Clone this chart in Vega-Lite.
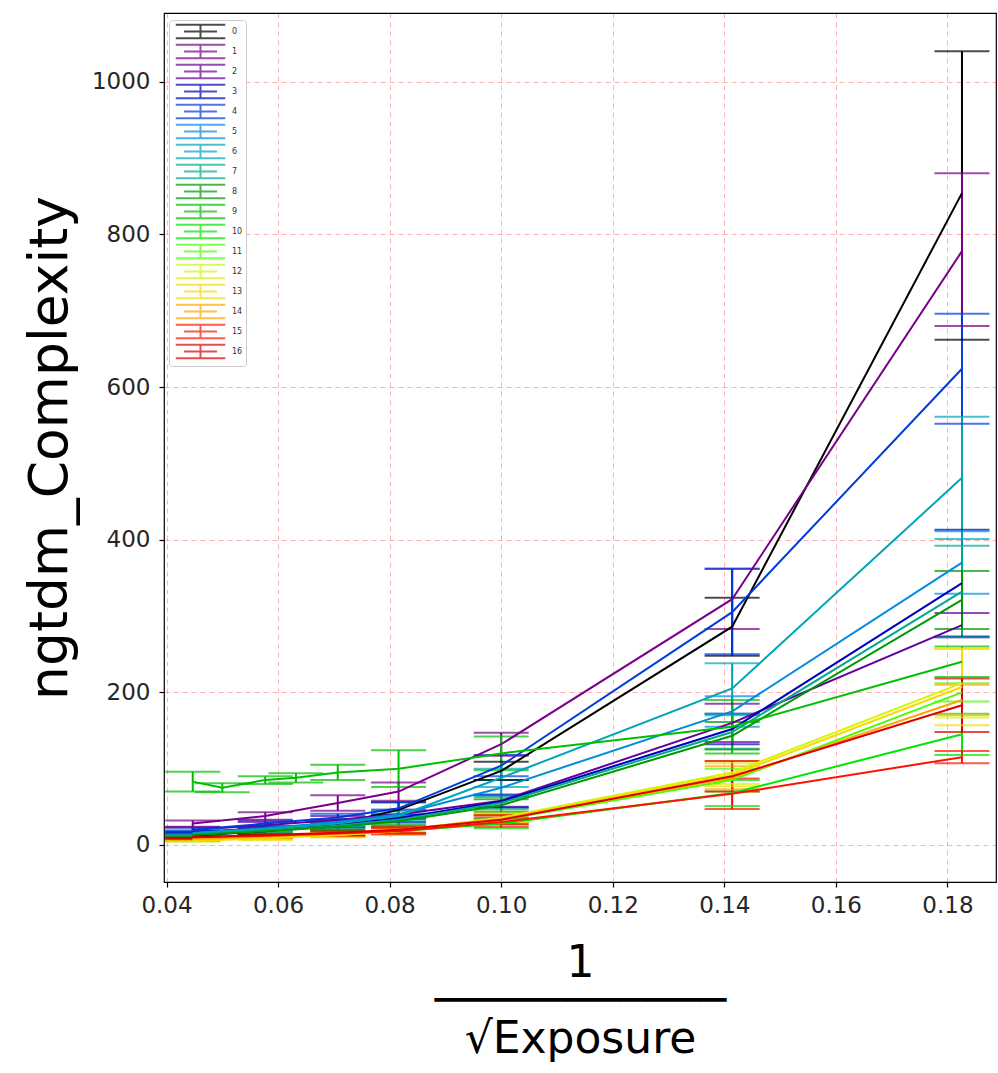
{
  "$schema": "https://vega.github.io/schema/vega-lite/v6.json",
  "width": 832,
  "height": 869,
  "autosize": {"type": "none"},
  "padding": {"left": 164, "top": 13, "right": 2, "bottom": 191},
  "background": "white",
  "config": {
    "font": "DejaVu Sans",
    "view": {"stroke": "#000000", "strokeWidth": 1.2},
    "axis": {
      "grid": true, "gridColor": "#ff0000", "gridOpacity": 0.3, "gridDash": [5, 4], "gridWidth": 1,
      "domain": false, "tickColor": "#000000", "tickSize": 5, "tickWidth": 1.2,
      "labelFontSize": 23, "labelColor": "#262626", "titleFontWeight": "normal", "titleColor": "#000000"
    }
  },
  "data": {"values": [
    {"s":0,"x":0.0447,"y":12,"lo":9,"hi":15},{"s":0,"x":0.0577,"y":18,"lo":14,"hi":22},{"s":0,"x":0.0707,"y":28,"lo":23,"hi":33},{"s":0,"x":0.0816,"y":46,"lo":36,"hi":56},{"s":0,"x":0.1,"y":97,"lo":85,"hi":109},{"s":0,"x":0.1414,"y":286,"lo":248,"hi":324},{"s":0,"x":0.1826,"y":854,"lo":662,"hi":1040},
    {"s":1,"x":0.0447,"y":28,"lo":24,"hi":32},{"s":1,"x":0.0577,"y":38,"lo":33,"hi":43},{"s":1,"x":0.0707,"y":55,"lo":45,"hi":65},{"s":1,"x":0.0816,"y":70,"lo":58,"hi":82},{"s":1,"x":0.1,"y":132,"lo":117,"hi":147},{"s":1,"x":0.1414,"y":322,"lo":283,"hi":362},{"s":1,"x":0.1826,"y":778,"lo":680,"hi":880},
    {"s":2,"x":0.0447,"y":20,"lo":17,"hi":23},{"s":2,"x":0.0577,"y":26,"lo":22,"hi":30},{"s":2,"x":0.0707,"y":33,"lo":28,"hi":38},{"s":2,"x":0.0816,"y":40,"lo":34,"hi":46},{"s":2,"x":0.1,"y":58,"lo":50,"hi":66},{"s":2,"x":0.1414,"y":160,"lo":135,"hi":185},{"s":2,"x":0.1826,"y":288,"lo":272,"hi":304},
    {"s":3,"x":0.0447,"y":17,"lo":15,"hi":19},{"s":3,"x":0.0577,"y":22,"lo":19,"hi":25},{"s":3,"x":0.0707,"y":28,"lo":24,"hi":32},{"s":3,"x":0.0816,"y":35,"lo":30,"hi":40},{"s":3,"x":0.1,"y":57,"lo":49,"hi":65},{"s":3,"x":0.1414,"y":152,"lo":132,"hi":172},{"s":3,"x":0.1826,"y":343,"lo":273,"hi":413},
    {"s":4,"x":0.0447,"y":20,"lo":17,"hi":23},{"s":4,"x":0.0577,"y":28,"lo":24,"hi":32},{"s":4,"x":0.0707,"y":36,"lo":31,"hi":41},{"s":4,"x":0.0816,"y":48,"lo":40,"hi":56},{"s":4,"x":0.1,"y":104,"lo":90,"hi":118},{"s":4,"x":0.1414,"y":305,"lo":250,"hi":362},{"s":4,"x":0.1826,"y":624,"lo":552,"hi":696},
    {"s":5,"x":0.0447,"y":16,"lo":14,"hi":18},{"s":5,"x":0.0577,"y":22,"lo":19,"hi":25},{"s":5,"x":0.0707,"y":30,"lo":26,"hi":34},{"s":5,"x":0.0816,"y":40,"lo":34,"hi":46},{"s":5,"x":0.1,"y":75,"lo":65,"hi":85},{"s":5,"x":0.1414,"y":175,"lo":155,"hi":195},{"s":5,"x":0.1826,"y":370,"lo":329,"hi":411},
    {"s":6,"x":0.0447,"y":15,"lo":13,"hi":17},{"s":6,"x":0.0577,"y":21,"lo":18,"hi":24},{"s":6,"x":0.0707,"y":28,"lo":24,"hi":32},{"s":6,"x":0.0816,"y":38,"lo":32,"hi":44},{"s":6,"x":0.1,"y":88,"lo":76,"hi":100},{"s":6,"x":0.1414,"y":205,"lo":172,"hi":238},{"s":6,"x":0.1826,"y":481,"lo":401,"hi":561},
    {"s":7,"x":0.0447,"y":14,"lo":12,"hi":16},{"s":7,"x":0.0577,"y":19,"lo":16,"hi":22},{"s":7,"x":0.0707,"y":25,"lo":21,"hi":29},{"s":7,"x":0.0816,"y":33,"lo":28,"hi":38},{"s":7,"x":0.1,"y":55,"lo":47,"hi":63},{"s":7,"x":0.1414,"y":148,"lo":126,"hi":170},{"s":7,"x":0.1826,"y":332,"lo":272,"hi":392},
    {"s":8,"x":0.0447,"y":13,"lo":11,"hi":15},{"s":8,"x":0.0577,"y":18,"lo":15,"hi":21},{"s":8,"x":0.0707,"y":24,"lo":20,"hi":28},{"s":8,"x":0.0816,"y":31,"lo":26,"hi":36},{"s":8,"x":0.1,"y":52,"lo":44,"hi":60},{"s":8,"x":0.1414,"y":143,"lo":125,"hi":161},{"s":8,"x":0.1826,"y":321,"lo":283,"hi":359},
    {"s":9,"x":0.0447,"y":83,"lo":70,"hi":96},{"s":9,"x":0.05,"y":75,"lo":69,"hi":81},{"s":9,"x":0.0577,"y":85,"lo":80,"hi":90},{"s":9,"x":0.0632,"y":88,"lo":82,"hi":94},{"s":9,"x":0.0707,"y":95,"lo":85,"hi":105},{"s":9,"x":0.0816,"y":100,"lo":76,"hi":124},{"s":9,"x":0.1,"y":120,"lo":98,"hi":142},{"s":9,"x":0.1414,"y":155,"lo":120,"hi":190},{"s":9,"x":0.1826,"y":240,"lo":220,"hi":260},
    {"s":10,"x":0.0447,"y":8,"lo":6,"hi":10},{"s":10,"x":0.0577,"y":11,"lo":9,"hi":13},{"s":10,"x":0.0707,"y":14,"lo":11,"hi":17},{"s":10,"x":0.0816,"y":18,"lo":14,"hi":22},{"s":10,"x":0.1,"y":28,"lo":22,"hi":34},{"s":10,"x":0.1414,"y":68,"lo":51,"hi":85},{"s":10,"x":0.1826,"y":145,"lo":118,"hi":172},
    {"s":11,"x":0.0447,"y":7,"lo":5,"hi":9},{"s":11,"x":0.0577,"y":10,"lo":8,"hi":12},{"s":11,"x":0.0707,"y":14,"lo":11,"hi":17},{"s":11,"x":0.0816,"y":19,"lo":15,"hi":23},{"s":11,"x":0.1,"y":33,"lo":27,"hi":39},{"s":11,"x":0.1414,"y":85,"lo":70,"hi":100},{"s":11,"x":0.1826,"y":200,"lo":188,"hi":212},
    {"s":12,"x":0.0447,"y":6,"lo":5,"hi":7},{"s":12,"x":0.0577,"y":9,"lo":7,"hi":11},{"s":12,"x":0.0707,"y":13,"lo":10,"hi":16},{"s":12,"x":0.0816,"y":18,"lo":14,"hi":22},{"s":12,"x":0.1,"y":36,"lo":30,"hi":42},{"s":12,"x":0.1414,"y":95,"lo":80,"hi":110},{"s":12,"x":0.1826,"y":212,"lo":167,"hi":257},
    {"s":13,"x":0.0447,"y":6,"lo":5,"hi":7},{"s":13,"x":0.0577,"y":9,"lo":7,"hi":11},{"s":13,"x":0.0707,"y":13,"lo":10,"hi":16},{"s":13,"x":0.0816,"y":18,"lo":14,"hi":22},{"s":13,"x":0.1,"y":35,"lo":29,"hi":41},{"s":13,"x":0.1414,"y":92,"lo":77,"hi":107},{"s":13,"x":0.1826,"y":207,"lo":157,"hi":257},
    {"s":14,"x":0.0447,"y":8,"lo":6,"hi":10},{"s":14,"x":0.0577,"y":11,"lo":9,"hi":13},{"s":14,"x":0.0707,"y":15,"lo":12,"hi":18},{"s":14,"x":0.0816,"y":20,"lo":16,"hi":24},{"s":14,"x":0.1,"y":34,"lo":28,"hi":40},{"s":14,"x":0.1414,"y":88,"lo":73,"hi":103},{"s":14,"x":0.1826,"y":190,"lo":170,"hi":210},
    {"s":15,"x":0.0447,"y":10,"lo":8,"hi":12},{"s":15,"x":0.0577,"y":12,"lo":10,"hi":14},{"s":15,"x":0.0707,"y":15,"lo":12,"hi":18},{"s":15,"x":0.0816,"y":18,"lo":14,"hi":22},{"s":15,"x":0.1,"y":30,"lo":24,"hi":36},{"s":15,"x":0.1414,"y":67,"lo":47,"hi":87},{"s":15,"x":0.1826,"y":115,"lo":107,"hi":123},
    {"s":16,"x":0.0447,"y":10,"lo":8,"hi":12},{"s":16,"x":0.0577,"y":13,"lo":11,"hi":15},{"s":16,"x":0.0707,"y":16,"lo":13,"hi":19},{"s":16,"x":0.0816,"y":20,"lo":16,"hi":24},{"s":16,"x":0.1,"y":33,"lo":27,"hi":39},{"s":16,"x":0.1414,"y":90,"lo":70,"hi":110},{"s":16,"x":0.1826,"y":183,"lo":148,"hi":218}
  ]},
  "encoding": {
    "x": {
      "field": "x", "type": "quantitative",
      "scale": {"domain": [0.03955, 0.1887], "nice": false, "zero": false},
      "axis": {
        "values": [0.04, 0.06, 0.08, 0.1, 0.12, 0.14, 0.16, 0.18], "format": ".2f",
        "labelPadding": 7,
        "title": ["1", "───────────", "√Exposure"],
        "titleFontSize": 44, "titleLineHeight": 38, "titlePadding": 24
      }
    },
    "color": {
      "field": "s", "type": "nominal",
      "scale": {
        "domain": [0,1,2,3,4,5,6,7,8,9,10,11,12,13,14,15,16],
        "range": ["#000000","#79008a","#66009d","#0000bd","#003bdd","#008cdd","#00a6b7","#00aa8c","#009900","#00bf00","#00e600","#47ff00","#d4f600","#f9d900","#ffa600","#ff1300","#dd0000"]
      },
      "legend": {
        "orient": "none", "legendX": 5, "legendY": 7, "title": null,
        "symbolType": "M-3.3,-0.9H3.3M-2.2,0H2.2M0,-0.9V0.9M-3.3,0.9H3.3",
        "symbolSize": 225, "symbolStrokeWidth": 2, "symbolOffset": 20,
        "labelFontSize": 8, "labelColor": "#333333", "labelOffset": 23,
        "padding": 3, "rowPadding": -3,
        "strokeColor": "#cccccc", "fillColor": "white", "cornerRadius": 3
      }
    }
  },
  "layer": [
    {
      "mark": {"type": "rule", "strokeWidth": 2},
      "encoding": {
        "y": {"field": "lo", "type": "quantitative", "scale": {"domain": [-48.5, 1090], "nice": false, "zero": false},
              "axis": {"values": [0, 200, 400, 600, 800, 1000], "format": "d", "labelPadding": 9, "title": "ngtdm_Complexity", "titleFontSize": 53.5, "titlePadding": 14}},
        "y2": {"field": "hi"}
      }
    },
    {
      "mark": {"type": "tick", "orient": "horizontal", "size": 55, "thickness": 2},
      "encoding": {
        "y": {"field": "hi", "type": "quantitative", "scale": {"domain": [-48.5, 1090], "nice": false, "zero": false}, "axis": {"title": "ngtdm_Complexity"}}
      }
    },
    {
      "mark": {"type": "tick", "orient": "horizontal", "size": 55, "thickness": 2},
      "encoding": {
        "y": {"field": "lo", "type": "quantitative", "scale": {"domain": [-48.5, 1090], "nice": false, "zero": false}, "axis": {"title": "ngtdm_Complexity"}}
      }
    },
    {
      "mark": {"type": "line", "strokeWidth": 2},
      "encoding": {
        "y": {"field": "y", "type": "quantitative", "scale": {"domain": [-48.5, 1090], "nice": false, "zero": false}, "axis": {"title": "ngtdm_Complexity"}}
      }
    }
  ]
}
